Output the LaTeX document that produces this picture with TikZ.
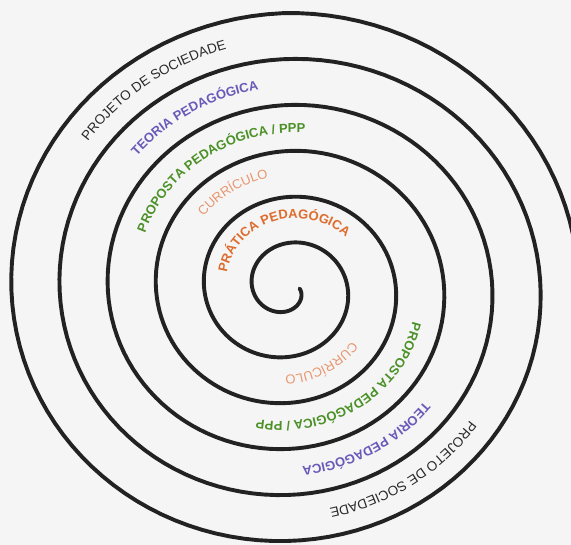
\documentclass[tikz,border=0pt]{standalone}
\usepackage{fontspec}
\setmainfont{Liberation Sans}
\usetikzlibrary{decorations.text}
\definecolor{bgc}{RGB}{245,245,245}
\definecolor{spiralc}{RGB}{34,34,34}
\definecolor{projc}{RGB}{40,40,40}
\definecolor{teoc}{RGB}{105,90,185}
\definecolor{propc}{RGB}{75,145,40}
\definecolor{curc}{RGB}{232,150,110}
\definecolor{pratc}{RGB}{222,108,45}
\tikzset{
  spiralline/.style={line width=3.9pt, draw=spiralc, line cap=round, line join=round},
  lbl/.style={decorate, decoration={text along path, text align=center, text={#1}}}
}
\begin{document}
\begin{tikzpicture}[x=1pt,y=1pt]
\useasboundingbox (0,0) rectangle (571,545);
\fill[bgc] (0,0) rectangle (571,545);
\clip (0,0) rectangle (571,545);
% spiral
\draw[spiralline] plot[domain=0:2152, samples=700, variable=\t]
  ({288+1.048*min(11+0.12778*\t, 275.5+0.0222*(\t-2070))*cos(\t)},
   {256.5-min(11+0.12778*\t, 275.5+0.0222*(\t-2070))*sin(\t)});
% labels (top-left arcs)
\path[lbl={|\fontsize{13.5}{16}\selectfont\color{projc}|PROJETO DE SOCIEDADE}]
  plot[domain=1630:1722, samples=60, variable=\t]
  ({288+1.048*(29.3+0.12778*\t)*cos(\t)}, {256.5-(29.3+0.12778*\t)*sin(\t)});
\path[lbl={|\fontsize{13}{15}\selectfont\bfseries\color{teoc}|TEORIA PEDAGÓGICA}]
  plot[domain=1270:1372, samples=60, variable=\t]
  ({288+1.048*(29.3+0.12778*\t)*cos(\t)}, {256.5-(29.3+0.12778*\t)*sin(\t)});
\path[lbl={|\fontsize{13}{15}\selectfont\bfseries\color{propc}|PROPOSTA PEDAGÓGICA / PPP}]
  plot[domain=895:1020, samples=60, variable=\t]
  ({288+1.048*(29.3+0.12778*\t)*cos(\t)}, {256.5-(29.3+0.12778*\t)*sin(\t)});
\path[lbl={|\fontsize{13}{15}\selectfont\color{curc}|CURRÍCULO}]
  plot[domain=560:640, samples=60, variable=\t]
  ({288+1.048*(33.3+0.12778*\t)*cos(\t)}, {256.5-(33.3+0.12778*\t)*sin(\t)});
\path[lbl={|\fontsize{13}{15}\selectfont\bfseries\color{pratc}|PRÁTICA PEDAGÓGICA}]
  plot[domain=160:343, samples=80, variable=\t]
  ({288+1.048*(35.3+0.12778*\t)*cos(\t)}, {256.5-(35.3+0.12778*\t)*sin(\t)});
% labels (bottom-right arcs)
\path[lbl={|\fontsize{13}{15}\selectfont\color{curc}|CURRÍCULO}]
  plot[domain=380:470, samples=60, variable=\t]
  ({288+1.048*(29.3+0.12778*\t)*cos(\t)}, {256.5-(29.3+0.12778*\t)*sin(\t)});
\path[lbl={|\fontsize{13}{15}\selectfont\bfseries\color{propc}|PROPOSTA PEDAGÓGICA / PPP}]
  plot[domain=710:845, samples=60, variable=\t]
  ({288+1.048*(29.3+0.12778*\t)*cos(\t)}, {256.5-(29.3+0.12778*\t)*sin(\t)});
\path[lbl={|\fontsize{13}{15}\selectfont\bfseries\color{teoc}|TEORIA PEDAGÓGICA}]
  plot[domain=1090:1194, samples=60, variable=\t]
  ({288+1.048*(29.3+0.12778*\t)*cos(\t)}, {256.5-(29.3+0.12778*\t)*sin(\t)});
\path[lbl={|\fontsize{13.5}{16}\selectfont\color{projc}|PROJETO DE SOCIEDADE}]
  plot[domain=1450:1545, samples=60, variable=\t]
  ({288+1.048*(29.3+0.12778*\t)*cos(\t)}, {256.5-(29.3+0.12778*\t)*sin(\t)});
\end{tikzpicture}
\end{document}
